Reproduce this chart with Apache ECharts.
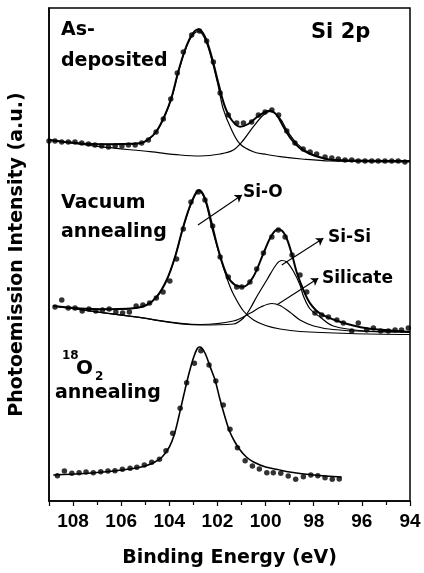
<!DOCTYPE html>
<html>
<head>
<meta charset="utf-8">
<script src="https://cdn.jsdelivr.net/npm/echarts@6/dist/echarts.min.js"></script>
<style>
  html, body { margin: 0; padding: 0; background: #fff; }
  #chart { width: 424px; height: 573px; }
</style>
</head>
<body>
<div id="chart"></div>
<script>
// Binding energy (eV) / intensity (a.u., arbitrary offset per spectrum)
const xTicks = [94, 96, 98, 100, 102, 104, 106, 108];

// As-deposited
const asDepDots = [[109.0,360],[108.75,360],[108.47,359],[108.20,359],[107.92,359],[107.64,358],[107.36,357],[107.09,356],[106.81,355],[106.53,354],[106.25,355],[105.97,355],[105.70,356],[105.42,356],[105.15,358],[104.87,361],[104.55,369],[104.25,382],[103.94,402],[103.67,428],[103.42,449],[103.07,466],[102.75,470],[102.45,460],[102.17,439],[101.89,408],[101.55,386],[101.20,378],[100.92,378],[100.58,379],[100.30,386],[100.02,389],[99.74,391],[99.46,386],[99.12,370],[98.78,358],[98.44,352],[98.15,349],[97.88,347],[97.53,344],[97.25,343],[96.98,342],[96.70,341],[96.42,341],[96.15,340],[95.87,340],[95.59,340],[95.32,340],[95.04,340],[94.76,340],[94.49,340],[94.21,339]];
const asDepFit = [[109.0,361],[106.88,356.7],[105.22,357.7],[104.87,361.7],[104.52,370.3],[104.18,386],[103.90,404.3],[103.63,429.3],[103.35,451],[103.07,466],[102.79,471.7],[102.52,464.3],[102.24,444.3],[101.96,417.7],[101.69,394.3],[101.41,381],[101.06,374.3],[100.72,377],[100.37,383.7],[100.02,389],[99.79,390.3],[99.54,386],[99.26,374.3],[98.91,361],[98.57,352.7],[98.15,347],[97.60,342.7],[97.19,341],[94.0,340]];
const asDepSiO = [[109.0,361],[106.88,356.7],[105.22,357.7],[104.87,361.5],[104.52,370],[104.18,385.5],[103.90,403.5],[103.63,428.5],[103.35,450],[103.07,464.5],[102.79,469.5],[102.52,462],[102.24,441.5],[101.96,414],[101.76,392],[101.41,371],[101.06,357],[100.51,349.3],[99.95,346.5],[99.40,344.3],[98.5,342],[97.32,340],[94.0,339]];
const asDepSiSi = [[109.0,361],[106.88,354.3],[104.80,349.3],[103.55,346],[102.72,345],[101.89,347],[101.34,351],[100.92,361],[100.51,374.3],[100.09,386],[99.79,389.5],[99.40,382.7],[99.12,371],[98.71,357.7],[98.15,347.7],[97.46,342],[96.5,340.5],[94.0,340]];

// Vacuum annealing
const vacDots = [[108.75,194],[108.47,201],[108.20,193],[107.92,193],[107.62,190],[107.34,192],[107.06,190],[106.78,191],[106.50,192],[106.22,189],[105.94,188],[105.66,189],[105.38,195],[105.10,196],[104.82,198],[104.54,203],[104.26,209],[103.98,220],[103.70,242],[103.42,272],[103.10,299],[102.80,309],[102.52,301],[102.20,275],[101.89,244],[101.55,224],[101.20,214],[100.99,214],[100.65,219],[100.37,232],[100.09,248],[99.74,264],[99.47,271],[99.19,264],[98.90,246],[98.57,226],[98.29,209],[97.95,188],[97.67,186],[97.39,184],[97.04,181],[96.77,178],[96.42,170],[96.15,178],[95.80,171],[95.52,173],[95.22,170],[94.90,170],[94.62,171],[94.35,171],[94.07,173]];
const vacFit = [[108.82,195],[106.88,191.7],[105.49,192.7],[104.94,196],[104.52,204.3],[104.11,221],[103.76,244.3],[103.42,274.3],[103.07,299.3],[102.77,311],[102.52,302.7],[102.24,277.7],[101.96,251],[101.61,226],[101.27,216],[100.92,214.3],[100.51,224.3],[100.09,247.7],[99.74,266],[99.47,271.7],[99.19,266],[98.9,246],[98.71,229],[98.43,211],[98.15,197.7],[97.74,187.7],[96.91,179.3],[95.80,172.7],[94.14,169.3],[94.0,169]];
const vacSiO = [[108.82,195],[106.88,191.7],[105.49,192.7],[104.94,196],[104.52,204.3],[104.11,221],[103.76,244.3],[103.42,274],[103.07,298.5],[102.77,309.5],[102.52,301],[102.24,274],[101.96,250],[101.76,234],[101.55,219],[101.34,207],[100.92,190],[100.5,181],[100.0,175.5],[99.4,172],[98.57,169.5],[96.5,167.5],[94.0,166.5]];
const vacSiSi = [[108.82,195],[105.49,184.3],[102.72,176],[101.34,177],[100.92,183],[100.65,192],[100.37,204.3],[99.95,221],[99.54,237],[99.33,240.5],[99.12,239],[98.85,230],[98.57,216],[98.43,205],[98.15,192],[97.74,184],[97.19,175],[95.8,170],[94.0,169]];
const vacSilicate = [[108.82,195],[105.49,184.3],[102.72,176.5],[101.34,180],[100.65,187.7],[100.2,194],[99.74,197.5],[99.4,195.5],[99.0,189],[98.57,181],[98.0,175],[97.2,171.5],[95.8,169.5],[94.0,169]];

// 18O2 annealing
const o18Dots = [[108.65,25.3],[108.36,30],[108.05,27.7],[107.75,28.3],[107.46,29],[107.16,28.3],[106.85,29.3],[106.55,30],[106.26,30.3],[105.95,31.7],[105.63,32.7],[105.35,33.7],[105.04,36],[104.73,38.7],[104.41,41.7],[104.14,50.3],[103.86,67.7],[103.55,92.7],[103.28,118.3],[102.96,137.7],[102.69,150.3],[102.35,136],[102.07,120],[101.76,96],[101.48,71.7],[101.17,53.3],[100.85,40.3],[100.55,35],[100.26,32],[99.95,28.3],[99.68,28.3],[99.37,27.7],[99.06,25],[98.75,21.7],[98.43,24.3],[98.12,26],[97.83,25.3],[97.53,23.3],[97.23,21.7],[96.94,22]];
const o18Fit = [[108.82,26],[107.5,27.5],[106.5,29.5],[105.5,32.5],[105.0,35],[104.6,39],[104.3,44],[104.0,54],[103.8,66],[103.6,85],[103.4,106],[103.2,126],[103.0,143],[102.85,152],[102.75,154],[102.65,153],[102.5,147],[102.3,134],[102.1,121],[101.9,102],[101.7,85],[101.5,70],[101.3,60],[101.06,51],[100.8,44],[100.5,39],[100.0,34],[99.5,31.5],[99.0,29],[98.0,26],[96.84,24]];

// annotation arrows: [from, to] in (eV, a.u.)
const arrowPairs = [
    [[102.81, 276], [100.98, 306]],   // Si-O
    [[99.33, 236], [97.60, 262.7]],   // Si-Si
    [[99.54, 196], [97.81, 222.7]]    // Silicate
];

const BOLD = 'DejaVu Sans';

function fitLine(data, width) {
    return {
        type: 'line', data: data, showSymbol: false, smooth: 0.35,
        lineStyle: { color: '#000', width: width }, silent: true, z: 3
    };
}
function dots(data) {
    return {
        type: 'scatter', data: data, symbol: 'circle', symbolSize: 5.5,
        itemStyle: { color: '#000' }, silent: true, z: 4
    };
}
function label(text, left, y, size) {
    return {
        type: 'text', left: left, top: y - size / 2,
        style: { text: text, font: 'bold ' + size + 'px "' + BOLD + '"', fill: '#000' }
    };
}

const chart = echarts.init(document.getElementById('chart'));

const arrowSeries = {
    type: 'line', data: [], silent: true,
    markLine: {
        silent: true, animation: false,
        symbol: ['none', 'arrow'], symbolSize: 7,
        label: { show: false },
        lineStyle: { color: '#000', width: 1.1, type: 'solid', curveness: 0.3 },
        data: arrowPairs.map(p => [{ coord: p[0] }, { coord: p[1] }])
    }
};

chart.setOption({
    animation: false,
    grid: { left: 48, right: 14, top: 8, bottom: 72, show: true, borderColor: '#000', borderWidth: 1.5 },
    xAxis: {
        type: 'value', min: 94, max: 109, interval: 2, inverse: true,
        axisLine: { lineStyle: { color: '#000', width: 1.5 } },
        axisTick: { length: 5, lineStyle: { color: '#000', width: 1.2 } },
        minorTick: { show: true, splitNumber: 2, length: 4, lineStyle: { color: '#000', width: 1.2 } },
        splitLine: { show: false },
        axisLabel: {
            color: '#000', fontFamily: 'Liberation Sans', fontWeight: 'bold', fontSize: 19, margin: 11,
            formatter: v => xTicks.indexOf(v) >= 0 ? String(v) : ''
        },
        name: 'Binding Energy (eV)', nameLocation: 'middle', nameGap: 48,
        nameTextStyle: { color: '#000', fontFamily: BOLD, fontWeight: 'bold', fontSize: 19 }
    },
    yAxis: {
        type: 'value', min: 0, max: 493,
        axisLine: { show: true, lineStyle: { color: '#000', width: 1.5 } },
        axisTick: { show: false }, axisLabel: { show: false }, splitLine: { show: false },
        name: 'Photoemission Intensity (a.u.)', nameLocation: 'middle', nameGap: 22,
        nameTextStyle: { color: '#000', fontFamily: BOLD, fontWeight: 'bold', fontSize: 19 }
    },
    series: [
        fitLine(asDepSiO, 1.2), fitLine(asDepSiSi, 1.2), fitLine(asDepFit, 2), dots(asDepDots),
        fitLine(vacSiO, 1.2), fitLine(vacSiSi, 1.2), fitLine(vacSilicate, 1.2), fitLine(vacFit, 2), dots(vacDots),
        fitLine(o18Fit, 1.6), dots(o18Dots),
        arrowSeries
    ],
    graphic: [
        label('As-', 61, 30, 19),
        label('deposited', 61, 61, 19),
        label('Si 2p', 311, 33, 21),
        label('Vacuum', 61, 203, 19),
        label('annealing', 61, 232, 19),
        label('Si-O', 243, 193, 17),
        label('Si-Si', 328, 238, 17),
        label('Silicate', 322, 279, 17),
        label('18', 62, 356, 12),
        label('O', 76, 369, 20),
        label('2', 95, 377, 12),
        label('annealing', 55, 393, 19)
    ]
});
</script>
</body>
</html>
